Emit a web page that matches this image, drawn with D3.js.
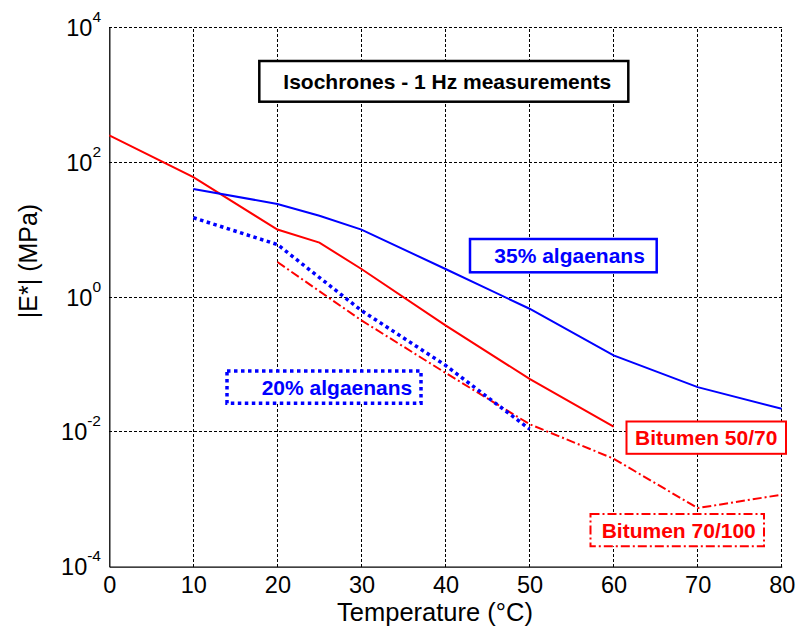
<!DOCTYPE html>
<html>
<head>
<meta charset="utf-8">
<script src="https://cdn.jsdelivr.net/npm/d3@7"></script>
<style>
    body { margin: 0; background: #fff; }
    text { font-family: Arial, "Liberation Sans", sans-serif; }
</style>
</head>
<body>
<div id="chart"></div>
<script>
// values (|E*| in MPa)
const tempsBitumen5070 = [0, 10, 20, 25, 30, 40, 50, 60];
const valuesBitumen5070 = [250, 60, 10, 6.4, 2.6, 0.38, 0.061, 0.012];

const tempsBitumen70100 = [20, 30, 40, 50, 60, 70, 80];
const valuesBitumen70100 = [3.3, 0.45, 0.075, 0.013, 0.004, 0.00074, 0.00117];

const tempsAlgae35 = [10, 20, 25, 30, 40, 50, 60, 70, 80];
const valuesAlgae35 = [40, 24, 16, 10, 2.6, 0.67, 0.136, 0.046, 0.022];

const tempsAlgae20 = [10, 20, 30, 40, 50];
const valuesAlgae20 = [15, 6, 0.63, 0.097, 0.011];

const xTicks = [0, 10, 20, 30, 40, 50, 60, 70, 80];
const yTickExponents = [-4, -2, 0, 2, 4];

const width = 797, height = 630;
const margin = { left: 109.3, right: 15.3, top: 27.3, bottom: 63.3 };

const svg = d3.select("#chart").append("svg")
    .attr("width", width)
    .attr("height", height);

svg.append("rect")
    .attr("width", width)
    .attr("height", height)
    .attr("fill", "#fff");

const x = d3.scaleLinear()
    .domain([0, 80])
    .range([margin.left, width - margin.right]);

const y = d3.scaleLog()
    .domain([1e-4, 1e4])
    .range([height - margin.bottom, margin.top]);

// grid (top and right edges are grid lines too, no box)
const grid = svg.append("g")
    .attr("stroke", "#000")
    .attr("stroke-width", 1)
    .attr("stroke-dasharray", "2.5,2.5")
    .attr("shape-rendering", "crispEdges");

grid.selectAll(null)
    .data(xTicks.slice(1))
    .join("line")
    .attr("x1", d => x(d))
    .attr("x2", d => x(d))
    .attr("y1", y(1e-4))
    .attr("y2", y(1e4));

grid.selectAll(null)
    .data(yTickExponents.slice(1))
    .join("line")
    .attr("x1", x(0))
    .attr("x2", x(80))
    .attr("y1", d => y(Math.pow(10, d)))
    .attr("y2", d => y(Math.pow(10, d)));

// axes
const xAxis = svg.append("g")
    .attr("transform", `translate(0,${y(1e-4)})`)
    .call(d3.axisBottom(x).tickValues(xTicks).tickSize(0).tickPadding(10));

const yAxis = svg.append("g")
    .attr("transform", `translate(${x(0)},0)`)
    .call(d3.axisLeft(y).tickValues(yTickExponents.map(e => Math.pow(10, e))).tickSize(0).tickFormat(""));

[xAxis, yAxis].forEach(a => {
    a.select(".domain").attr("stroke", "#000").attr("stroke-width", 1.3);
});

xAxis.selectAll(".tick text")
    .attr("font-size", 23.5)
    .attr("fill", "#000");

yTickExponents.forEach(e => {
    let t = svg.append("text")
        .attr("x", 101)
        .attr("y", y(Math.pow(10, e)) + 8.5)
        .attr("text-anchor", "end")
        .attr("font-size", 23.5)
        .attr("fill", "#000");
    t.append("tspan").text("10");
    t.append("tspan")
        .attr("dy", -14)
        .attr("font-size", 15.5)
        .text(e);
});

svg.append("text")
    .attr("x", 435)
    .attr("y", 621)
    .attr("text-anchor", "middle")
    .attr("font-size", 25.5)
    .text("Temperature (°C)");

svg.append("text")
    .attr("transform", "translate(37,261) rotate(-90)")
    .attr("text-anchor", "middle")
    .attr("font-size", 25)
    .text("|E*| (MPa)");

// curves
const line = d3.line()
    .x(d => x(d[0]))
    .y(d => y(d[1]));

const series = [
    { temps: tempsBitumen5070, values: valuesBitumen5070, color: "#ff0000", width: 2, dash: null },
    { temps: tempsBitumen70100, values: valuesBitumen70100, color: "#ff0000", width: 2, dash: "9,3,2,3" },
    { temps: tempsAlgae35, values: valuesAlgae35, color: "#0000ff", width: 2, dash: null },
    { temps: tempsAlgae20, values: valuesAlgae20, color: "#0000ff", width: 3.5, dash: "3.5,3.5" }
];

svg.append("g")
    .attr("id", "curves")
    .selectAll(null)
    .data(series)
    .join("path")
    .attr("d", s => line(d3.zip(s.temps, s.values)))
    .attr("fill", "none")
    .attr("stroke", s => s.color)
    .attr("stroke-width", s => s.width)
    .attr("stroke-dasharray", s => s.dash);

// annotation boxes
const notes = [
    { text: "Isochrones - 1 Hz measurements", box: [259.3, 61, 369, 40.7], tx: 283.3, color: "#000", width: 2.5, dash: null },
    { text: "35% algaenans", box: [470, 239, 186.7, 33.3], tx: 494.3, color: "#0000ff", width: 2.5, dash: null },
    { text: "20% algaenans", box: [227, 371, 194, 32.3], tx: 261.7, color: "#0000ff", width: 3.5, dash: "3.5,3.5" },
    { text: "Bitumen 50/70", box: [626.5, 421.5, 159.5, 32.3], tx: 635, color: "#ff0000", width: 2, dash: null },
    { text: "Bitumen 70/100", box: [590.5, 514, 173.5, 32.3], tx: 601.7, color: "#ff0000", width: 2, dash: "9,3,2,3" }
];

const noteGroups = svg.append("g")
    .attr("id", "notes")
    .selectAll(null)
    .data(notes)
    .join("g");

noteGroups.append("rect")
    .attr("x", d => d.box[0])
    .attr("y", d => d.box[1])
    .attr("width", d => d.box[2])
    .attr("height", d => d.box[3])
    .attr("fill", "#fff")
    .attr("stroke", d => d.color)
    .attr("stroke-width", d => d.width)
    .attr("stroke-dasharray", d => d.dash);

noteGroups.append("text")
    .attr("x", d => d.tx)
    .attr("y", d => d.box[1] + d.box[3] / 2 + 7.5)
    .attr("font-size", 21)
    .attr("font-weight", "bold")
    .attr("fill", d => d.color)
    .text(d => d.text);
</script>
</body>
</html>
